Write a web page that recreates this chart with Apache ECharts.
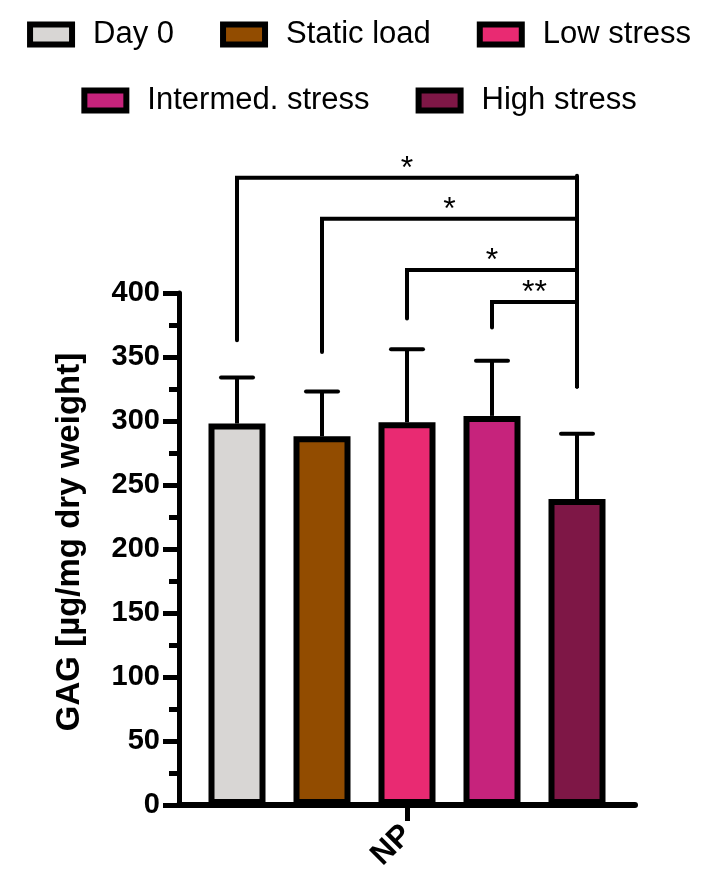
<!DOCTYPE html>
<html>
<head>
<meta charset="utf-8">
<script src="https://cdn.jsdelivr.net/npm/echarts@6/dist/echarts.min.js"></script>
<style>
html,body{margin:0;padding:0;background:#fff;}
#chart{width:718px;height:870px;}
</style>
</head>
<body>
<div id="chart"></div>
<script>
// ---- data ----
const categories = ['NP'];
const seriesNames = ['Day 0', 'Static load', 'Low stress', 'Intermed. stress', 'High stress'];
const means = [298, 288, 299, 304, 239];
const sdTops = [334, 323, 356, 347, 290];
const seriesColors = ['#d8d6d4', '#924c00', '#e92a72', '#c6237c', '#7e1746'];
const yMin = 0, yMax = 400, yInterval = 50;
// significance brackets: from group, to group, bracket level, left leg bottom, label
const bracketFrom = [0, 1, 2, 3];
const bracketTo = [4, 4, 4, 4];
const bracketLevel = [490, 458, 418, 393];
const bracketLegBottom = [363, 354, 380, 373];
const rightLegBottom = 327;
const bracketLabels = ['*', '*', '*', '**'];

// ---- style constants ----
const FONT = 'Liberation Sans, Arial, Helvetica, sans-serif';
const BAR_W = 57;
const BAR_GAP = 28;
const SPACING = BAR_W + BAR_GAP;
const N = seriesNames.length;

function groupX(api, idx) {
  const c = api.coord([0, 0])[0];
  return c + (idx - (N - 1) / 2) * SPACING;
}

const chart = echarts.init(document.getElementById('chart'), null, {renderer: 'canvas'});

const barSeries = seriesNames.map((name, i) => ({
  name: name,
  type: 'bar',
  data: [means[i]],
  barWidth: BAR_W,
  barGap: (BAR_GAP / BAR_W * 100) + '%',
  z: 3,
  itemStyle: {color: seriesColors[i], borderColor: '#000', borderWidth: 6}
}));

const errSeries = {
  type: 'custom',
  name: 'err',
  z: 2,
  clip: false,
  silent: true,
  data: seriesNames.map((n, i) => [0, means[i], sdTops[i], i]),
  renderItem: function (params, api) {
    const idx = api.value(3);
    const cx = groupX(api, idx);
    const yM = api.coord([0, api.value(1)])[1];
    const yT = api.coord([0, api.value(2)])[1];
    return {
      type: 'group',
      children: [
        {type: 'line', shape: {x1: cx, y1: yM, x2: cx, y2: yT}, style: {stroke: '#000', lineWidth: 4}},
        {type: 'line', shape: {x1: cx - 16, y1: yT, x2: cx + 16, y2: yT}, style: {stroke: '#000', lineWidth: 4, lineCap: 'round'}}
      ]
    };
  }
};

const bracketSeries = {
  type: 'custom',
  name: 'brackets',
  z: 4,
  clip: false,
  silent: true,
  data: bracketFrom.map((f, i) => [f, bracketTo[i], bracketLevel[i], bracketLegBottom[i], rightLegBottom, i]),
  renderItem: function (params, api) {
    const x1 = groupX(api, api.value(0));
    const x2 = groupX(api, api.value(1));
    const yL = api.coord([0, api.value(2)])[1];
    const yB = api.coord([0, api.value(3)])[1];
    const yR = api.coord([0, api.value(4)])[1];
    const lbl = bracketLabels[api.value(5)];
    return {
      type: 'group',
      children: [
        {type: 'polyline', shape: {points: [[x1, yB], [x1, yL], [x2, yL]]}, style: {stroke: '#000', lineWidth: 4, fill: null, lineCap: 'round'}},
        {type: 'line', shape: {x1: x2, y1: yL - 2, x2: x2, y2: yR}, style: {stroke: '#000', lineWidth: 4, lineCap: 'round'}},
        {type: 'text', style: {text: lbl, x: (x1 + x2) / 2, y: yL + 7, align: 'center', verticalAlign: 'bottom', font: '32px ' + FONT, fill: '#000'}}
      ]
    };
  }
};

const legendCommon = {
  left: 'center',
  icon: 'rect',
  itemWidth: 42,
  itemHeight: 20,
  itemGap: 46,
  itemStyle: {borderColor: '#000', borderWidth: 6},
  textStyle: {fontFamily: FONT, fontSize: 31, color: '#000', padding: [0, 0, 0, 16]}
};

chart.setOption({
  animation: false,
  backgroundColor: '#fff',
  legend: [
    Object.assign({}, legendCommon, {top: 14, data: seriesNames.slice(0, 3)}),
    Object.assign({}, legendCommon, {top: 80, data: seriesNames.slice(3)})
  ],
  grid: {left: 179, right: 83, top: 293, bottom: 65, containLabel: false, outerBoundsMode: 'none'},
  xAxis: {
    type: 'category',
    data: categories,
    axisLine: {lineStyle: {color: '#000', width: 6}},
    axisTick: {show: true, alignWithLabel: true, length: 16, lineStyle: {color: '#000', width: 5}},
    axisLabel: {rotate: 45, margin: 25, color: '#000', fontFamily: FONT, fontWeight: 'bold', fontSize: 31}
  },
  yAxis: {
    type: 'value',
    min: yMin,
    max: yMax,
    interval: yInterval,
    name: 'GAG [µg/mg dry weight]',
    nameLocation: 'middle',
    nameGap: 93,
    nameTextStyle: {fontFamily: FONT, fontWeight: 'bold', fontSize: 33, color: '#000', padding: [0, 0, 0, 14]},
    axisLine: {show: true, lineStyle: {color: '#000', width: 5}},
    axisTick: {show: true, length: 16, lineStyle: {color: '#000', width: 5}},
    minorTick: {show: true, splitNumber: 2, length: 10, lineStyle: {color: '#000', width: 5}},
    splitLine: {show: false},
    axisLabel: {margin: 19, color: '#000', fontFamily: FONT, fontWeight: 'bold', fontSize: 29}
  },
  series: barSeries.concat([errSeries, bracketSeries])
});
</script>
</body>
</html>
